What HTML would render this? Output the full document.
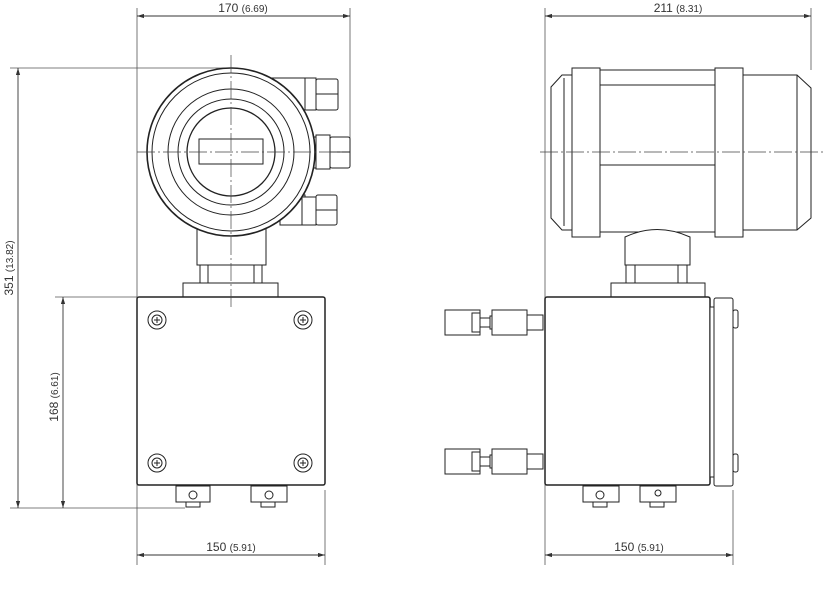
<!DOCTYPE html>
<html><head><meta charset="utf-8"><style>
html,body{margin:0;padding:0;background:#fff;width:823px;height:600px;overflow:hidden}
svg{display:block}
text{font-family:"Liberation Sans",sans-serif;fill:#333}
</style></head><body>
<svg width="823" height="600" viewBox="0 0 823 600" xmlns="http://www.w3.org/2000/svg">
<defs>
<marker id="a" viewBox="0 0 10 6" refX="10" refY="3" markerWidth="8" markerHeight="5" orient="auto-start-reverse"><path d="M0,0L10,3L0,6z" fill="#333"/></marker>
</defs>
<g stroke="#555" stroke-width="0.8" fill="none">
<!-- extension lines -->
<line x1="137" y1="8" x2="137" y2="565"/>
<line x1="350" y1="8" x2="350" y2="152"/>
<line x1="325" y1="490" x2="325" y2="565"/>
<line x1="10" y1="68" x2="232" y2="68"/>
<line x1="10" y1="508" x2="185" y2="508"/>
<line x1="55" y1="297" x2="137" y2="297"/>
<line x1="545" y1="8" x2="545" y2="565"/>
<line x1="811" y1="8" x2="811" y2="70"/>
<line x1="733" y1="490" x2="733" y2="565"/>
</g>
<g stroke="#333" stroke-width="0.9" fill="none">
<line x1="137" y1="16" x2="350" y2="16" marker-start="url(#a)" marker-end="url(#a)"/>
<line x1="545" y1="16" x2="811" y2="16" marker-start="url(#a)" marker-end="url(#a)"/>
<line x1="18" y1="68" x2="18" y2="508" marker-start="url(#a)" marker-end="url(#a)"/>
<line x1="63" y1="297" x2="63" y2="508" marker-start="url(#a)" marker-end="url(#a)"/>
<line x1="137" y1="555" x2="325" y2="555" marker-start="url(#a)" marker-end="url(#a)"/>
<line x1="545" y1="555" x2="733" y2="555" marker-start="url(#a)" marker-end="url(#a)"/>
</g>
<text x="243" y="12" font-size="12" text-anchor="middle">170 <tspan font-size="10">(6.69)</tspan></text>
<text x="678" y="12" font-size="12" text-anchor="middle">211 <tspan font-size="10">(8.31)</tspan></text>
<text x="231" y="551" font-size="12" text-anchor="middle">150 <tspan font-size="10">(5.91)</tspan></text>
<text x="639" y="551" font-size="12" text-anchor="middle">150 <tspan font-size="10">(5.91)</tspan></text>
<text transform="translate(13,268) rotate(-90)" font-size="12" text-anchor="middle">351 <tspan font-size="10">(13.82)</tspan></text>
<text transform="translate(58,397) rotate(-90)" font-size="12" text-anchor="middle">168 <tspan font-size="10">(6.61)</tspan></text>

<!-- LEFT VIEW -->
<g stroke="#222" stroke-width="1" fill="#fff">
<!-- glands -->
<rect x="270" y="78" width="40" height="32"/>
<rect x="305" y="78" width="11" height="32"/>
<rect x="316" y="79" width="22" height="31" rx="2"/>
<line x1="316" y1="94" x2="338" y2="94"/>
<rect x="300" y="137" width="18" height="31"/>
<rect x="316" y="135" width="14" height="34"/>
<rect x="330" y="137" width="20" height="31" rx="2"/>
<line x1="330" y1="152" x2="350" y2="152"/>
<rect x="280" y="195" width="25" height="30"/>
<rect x="302" y="197" width="14" height="28"/>
<rect x="316" y="195" width="21" height="30" rx="2"/>
<line x1="316" y1="210" x2="337" y2="210"/>
<!-- neck/flange -->
<rect x="197" y="225" width="69" height="40"/>
<rect x="200" y="265" width="8" height="18"/>
<rect x="254" y="265" width="8" height="18"/>
<rect x="183" y="283" width="95" height="14"/>
<circle cx="231" cy="152" r="84" stroke-width="1.6"/>
<circle cx="231" cy="152" r="79"/>
<circle cx="231" cy="152" r="63"/>
<circle cx="231" cy="152" r="53"/>
<circle cx="231" cy="152" r="44" stroke-width="1.3"/>
<rect x="199" y="139" width="64" height="25"/>
<!-- box -->
<rect x="137" y="297" width="188" height="188" stroke-width="1.5" rx="2"/>
<rect x="176" y="486" width="34" height="16"/>
<rect x="251" y="486" width="36" height="16"/>
<rect x="186" y="502" width="14" height="5"/>
<rect x="261" y="502" width="14" height="5"/>
</g>
<g stroke="#222" stroke-width="1" fill="none">
<circle cx="157" cy="320" r="9"/><circle cx="157" cy="320" r="5"/>
<circle cx="303" cy="320" r="9"/><circle cx="303" cy="320" r="5"/>
<circle cx="157" cy="463" r="9"/><circle cx="157" cy="463" r="5"/>
<circle cx="303" cy="463" r="9"/><circle cx="303" cy="463" r="5"/>
<path d="M154,320h6M157,317v6M300,320h6M303,317v6M154,463h6M157,460v6M300,463h6M303,460v6"/>
<circle cx="193" cy="495" r="4"/><circle cx="269" cy="495" r="4"/>
</g>
<g stroke="#444" stroke-width="0.7" stroke-dasharray="18,3,2,3">
<line x1="231" y1="55" x2="231" y2="310"/>
<line x1="137" y1="152" x2="345" y2="152"/>
</g>

<!-- RIGHT VIEW -->
<g stroke="#222" stroke-width="1" fill="#fff">
<path d="M562,75L600,75L600,230L562,230L551,218L551,87Z"/>
<line x1="564" y1="78" x2="564" y2="226"/>
<path d="M743,75L797,75L811,88L811,218L797,230L743,230Z"/>
<line x1="797" y1="75" x2="797" y2="230"/>
<rect x="600" y="70" width="115" height="162"/>
<rect x="600" y="85" width="115" height="80"/>
<rect x="572" y="68" width="28" height="169"/>
<rect x="715" y="68" width="28" height="169"/>
<path d="M625,237Q657,222 690,237L690,265L625,265Z"/>
<rect x="626" y="265" width="9" height="18"/>
<rect x="678" y="265" width="9" height="18"/>
<rect x="611" y="283" width="94" height="14"/>
<rect x="545" y="297" width="165" height="188" stroke-width="1.5" rx="2"/>
<rect x="710" y="307" width="6" height="170"/>
<rect x="714" y="298" width="19" height="188" rx="2"/>
<rect x="733" y="310" width="5" height="18" rx="2"/>
<rect x="733" y="454" width="5" height="18" rx="2"/>
<rect x="583" y="486" width="36" height="16"/>
<rect x="640" y="486" width="36" height="16"/>
<rect x="593" y="502" width="14" height="5"/>
<rect x="650" y="502" width="14" height="5"/>
</g>
<g stroke="#222" stroke-width="1" fill="#fff">
<g id="gl">
<rect x="445" y="310" width="35" height="25"/>
<rect x="472" y="313" width="8" height="19"/>
<rect x="480" y="318" width="12" height="9"/>
<rect x="490" y="316" width="10" height="13"/>
<rect x="492" y="310" width="35" height="25"/>
<rect x="527" y="315" width="16" height="15"/>
</g>
<use href="#gl" y="139"/>
</g>
<circle cx="600" cy="495" r="4" stroke="#222" fill="none"/>
<circle cx="658" cy="493" r="3" stroke="#222" fill="none"/>
<g stroke="#444" stroke-width="0.7" stroke-dasharray="18,3,2,3">
<line x1="540" y1="152" x2="823" y2="152"/>
</g>
</svg>
</body></html>
